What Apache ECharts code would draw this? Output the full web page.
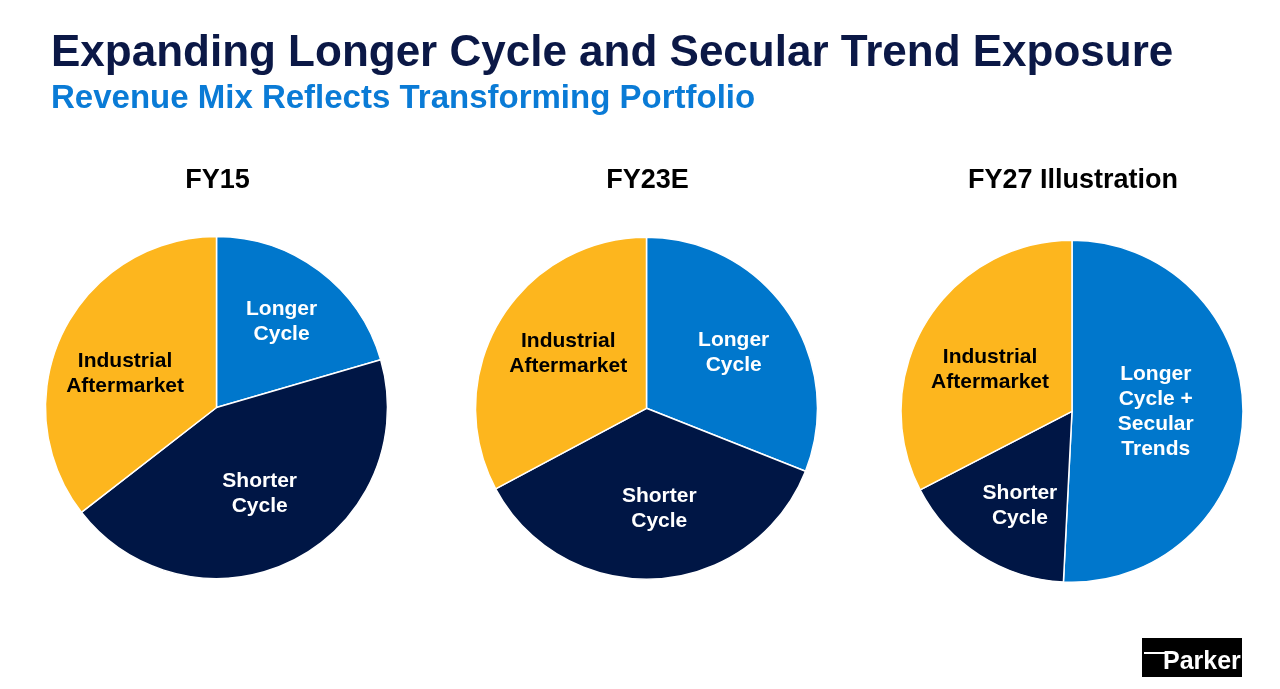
<!DOCTYPE html>
<html>
<head>
<meta charset="utf-8">
<script src="https://cdn.jsdelivr.net/npm/echarts@6/dist/echarts.min.js"></script>
<style>
html,body{margin:0;padding:0;background:#fff;}
#chart{width:1280px;height:689px;}
</style>
</head>
<body>
<div id="chart"></div>
<script>
// ---- data ----
const pieTitles = ['FY15', 'FY23E', 'FY27 Illustration'];
const labelsFY15 = ['Longer\nCycle', 'Shorter\nCycle', 'Industrial\nAftermarket'];
const labelsFY23 = ['Longer\nCycle', 'Shorter\nCycle', 'Industrial\nAftermarket'];
const labelsFY27 = ['Longer\nCycle +\nSecular\nTrends', 'Shorter\nCycle', 'Industrial\nAftermarket'];
const valuesFY15 = [20.5, 44.0, 35.5];
const valuesFY23 = [31.0, 36.2, 32.8];
const valuesFY27 = [50.8, 16.6, 32.6];

// ---- style / layout ----
const sliceColors = ['#0077CC', '#001645', '#FDB61E'];
const labelColors = ['#ffffff', '#ffffff', '#000000'];
const FONT = '"Liberation Sans", Arial, sans-serif';
const centers = [[216.5, 407.5], [646.5, 408.3], [1072, 411.3]];
const RADIUS = 171;
const LABEL_PUSH = 1.15;
// small label nudges (px) per pie, per slice
const labelNudge = [
  [[4, -4], [-3, -4], [0, 11]],
  [[3, 2], [7, -1], [9, -2]],
  [[-18, -2], [3, 9], [5, 11]]
];

const chart = echarts.init(document.getElementById('chart'), null, {renderer: 'canvas'});

function makeSeries(idx, labels, values) {
  const c = centers[idx];
  return {
    type: 'pie',
    center: c,
    radius: [0, RADIUS],
    startAngle: 90,
    clockwise: true,
    animation: false,
    silent: true,
    itemStyle: {borderColor: '#ffffff', borderWidth: 1.5},
    label: {
      show: true,
      position: 'inside',
      formatter: '{b}',
      fontFamily: FONT,
      fontWeight: 'bold',
      fontSize: 21,
      lineHeight: 25,
      align: 'center'
    },
    labelLine: {show: false},
    labelLayout: function (p) {
      const r = p.labelRect;
      const lx = r.x + r.width / 2;
      const ly = r.y + r.height / 2;
      const n = labelNudge[idx][p.dataIndex];
      return {
        x: c[0] + (lx - c[0]) * LABEL_PUSH + n[0],
        y: c[1] + (ly - c[1]) * LABEL_PUSH + n[1]
      };
    },
    data: labels.map((n, i) => ({
      name: n,
      value: values[i],
      itemStyle: {color: sliceColors[i]},
      label: {color: labelColors[i]}
    }))
  };
}

const option = {
  backgroundColor: '#ffffff',
  title: [
    {
      text: 'Expanding Longer Cycle and Secular Trend Exposure',
      left: 51, top: 32, padding: 0,
      textStyle: {fontFamily: FONT, fontWeight: 'bold', fontSize: 44, color: '#0B1846'}
    },
    {
      text: 'Revenue Mix Reflects Transforming Portfolio',
      left: 51, top: 82, padding: 0,
      textStyle: {fontFamily: FONT, fontWeight: 'bold', fontSize: 33, color: '#0A7BD6'}
    }
  ].concat(pieTitles.map((t, i) => ({
    text: t,
    left: centers[i][0] + 1,
    top: 167,
    padding: 0,
    textAlign: 'center',
    textStyle: {fontFamily: FONT, fontWeight: 'bold', fontSize: 27, color: '#000000'}
  }))),
  series: [
    makeSeries(0, labelsFY15, valuesFY15),
    makeSeries(1, labelsFY23, valuesFY23),
    makeSeries(2, labelsFY27, valuesFY27)
  ],
  graphic: [
    {type: 'rect', shape: {x: 1142, y: 638, width: 100, height: 39}, style: {fill: '#000000'}},
    {type: 'rect', shape: {x: 1144, y: 652, width: 28, height: 2}, style: {fill: '#ffffff'}},
    {type: 'text', x: 1163, y: 662, style: {text: 'Parker', fill: '#ffffff', font: 'bold 25px ' + FONT, verticalAlign: 'middle', align: 'left'}}
  ]
};
chart.setOption(option);
</script>
</body>
</html>
